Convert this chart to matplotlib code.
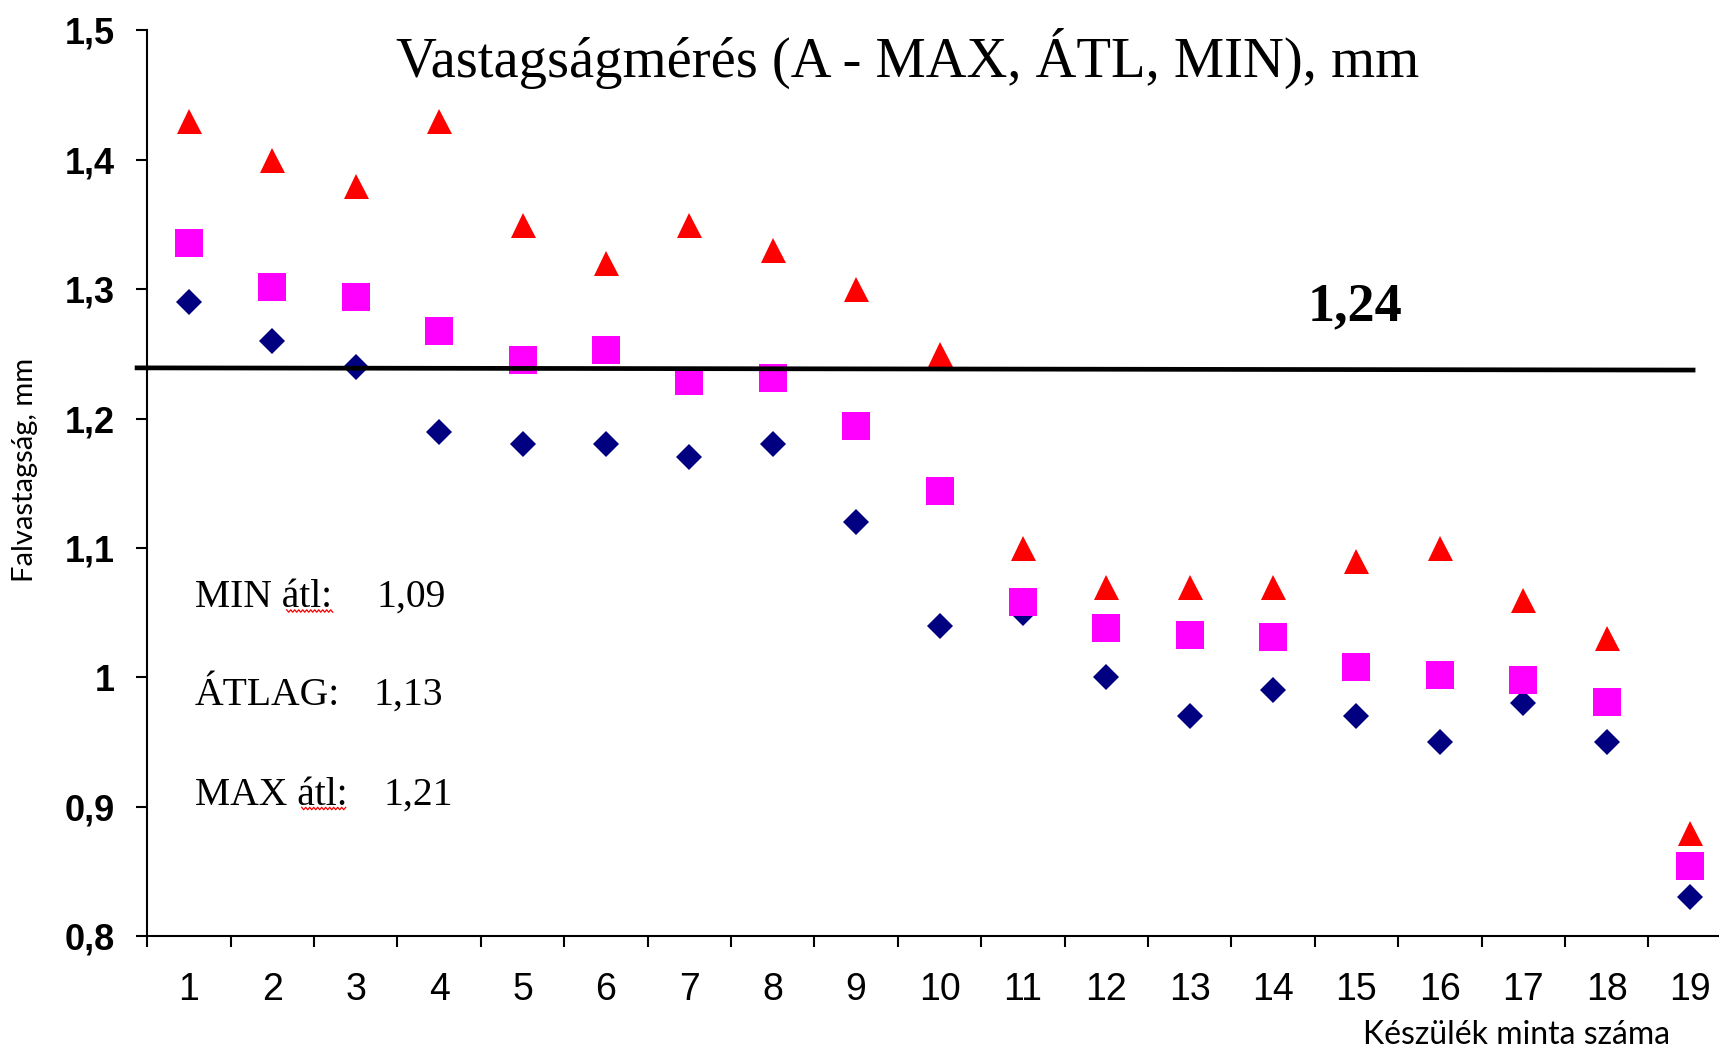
import numpy as np
import matplotlib
matplotlib.use("Agg")
import matplotlib.pyplot as plt
from matplotlib.lines import Line2D

# ---------------- data ----------------
samples = [str(i) for i in range(1, 20)]
max_vals = [1.43, 1.40, 1.38, 1.43, 1.35, 1.32, 1.35, 1.33, 1.30, 1.25,
            1.10, 1.07, 1.07, 1.07, 1.09, 1.10, 1.06, 1.03, 0.88]
atl_vals = [1.336, 1.302, 1.294, 1.268, 1.245, 1.253, 1.229, 1.231, 1.194, 1.144,
            1.058, 1.038, 1.033, 1.031, 1.008, 1.002, 0.998, 0.981, 0.854]
min_vals = [1.29, 1.26, 1.24, 1.19, 1.18, 1.18, 1.17, 1.18, 1.12, 1.04,
            1.05, 1.00, 0.97, 0.99, 0.97, 0.95, 0.98, 0.95, 0.83]
limit_line_x = [0.349, 19.065]
limit_line_y = [1.2392, 1.2375]
limit_label = "1,24"
y_ticks = [0.8, 0.9, 1.0, 1.1, 1.2, 1.3, 1.4, 1.5]
y_ticklabels = ["0,8", "0,9", "1", "1,1", "1,2", "1,3", "1,4", "1,5"]
summary_labels = ["MIN átl:", "ÁTLAG:", "MAX átl:"]
summary_values = ["1,09", "1,13", "1,21"]
title = "Vastagságmérés (A - MAX, ÁTL, MIN), mm"
xlabel = "Készülék minta száma"
ylabel = "Falvastagság, mm"

# ---------------- figure ----------------
W, H = 1719, 1052
fig = plt.figure(figsize=(W / 100, H / 100), dpi=100)

def fx(px):
    return px / W

def fy(py):
    return 1 - py / H

ax_left, ax_right, ax_top, ax_bot = 147.3, 1731.7, 30.5, 936.0
ax = fig.add_axes([fx(ax_left), fy(ax_bot), (ax_right - ax_left) / W, (ax_bot - ax_top) / H])

x = np.arange(1, len(samples) + 1)
ax.plot(x, min_vals, ls='none', marker='D', ms=12.8, color='#000080', mew=0, zorder=3)
ax.plot(x, atl_vals, ls='none', marker='s', ms=19.5, color='#FF00FF', mew=0, zorder=4)
ax.plot(x, max_vals, ls='none', marker='^', ms=18.0, color='#FF0000', mew=0, zorder=5)
ax.plot(limit_line_x, limit_line_y, color='black', lw=3.4,
        solid_capstyle='butt', clip_on=False, zorder=6)

ax.set_xlim(0.5, len(samples) + 0.5)
ax.set_ylim(0.8, 1.5)

for s in ['top', 'right']:
    ax.spines[s].set_visible(False)
for s in ['left', 'bottom']:
    ax.spines[s].set_linewidth(1.5)

ax.set_xticks(np.arange(0.5, len(samples) + 0.5, 1.0))
ax.set_xticklabels([])
ax.set_xticks(x, minor=True)
ax.set_xticklabels(samples, minor=True, fontfamily='Liberation Sans', fontsize=27)
ax.tick_params(axis='x', which='major', length=8, width=1.5, direction='out')
ax.tick_params(axis='x', which='minor', length=0, pad=25.7)

ax.set_yticks(y_ticks)
ax.set_yticklabels(y_ticklabels, fontfamily='Liberation Sans', fontweight='bold', fontsize=26)
ax.tick_params(axis='y', which='major', length=7.7, width=1.5, direction='out', pad=15.5)

# limit label
fig.text(fx(1355), fy(320), limit_label, ha='center', va='baseline',
         fontfamily='Liberation Serif', fontweight='bold', fontsize=39)

# title
fig.text(fx(908), fy(76.7), title, ha='center', va='baseline',
         fontfamily='Liberation Serif', fontsize=40.8)

# summary texts
label_baselines = [606.7, 705.0, 805.0]
value_x = [376.7, 373.0, 383.0]
for lab, val, yb, vx in zip(summary_labels, summary_values, label_baselines, value_x):
    fig.text(fx(195), fy(yb), lab, ha='left', va='baseline',
             fontfamily='Liberation Serif', fontsize=28.5)
    fig.text(fx(vx), fy(yb), val, ha='left', va='baseline',
             fontfamily='Liberation Serif', fontsize=28.5)

# spell-check squiggles under "átl"
def squiggle(x0, x1, y):
    xs = np.arange(x0, x1 + 0.1, 2.0)
    ys = y + np.where(np.arange(len(xs)) % 2 == 0, -1.2, 1.2)
    fig.add_artist(Line2D(fx(xs), fy(ys), transform=fig.transFigure,
                          color='#FF0000', lw=0.9))

squiggle(286.7, 333.0, 611.0)
squiggle(301.7, 346.7, 808.5)

# axis labels
fig.text(fx(25), fy(470), ylabel, rotation=90, ha='center', va='center',
         fontfamily='Lato', fontsize=21)
fig.text(fx(1363), fy(1044), xlabel, ha='left', va='baseline',
         fontfamily='Lato', fontsize=23)

fig.savefig('out.png', dpi=100)
